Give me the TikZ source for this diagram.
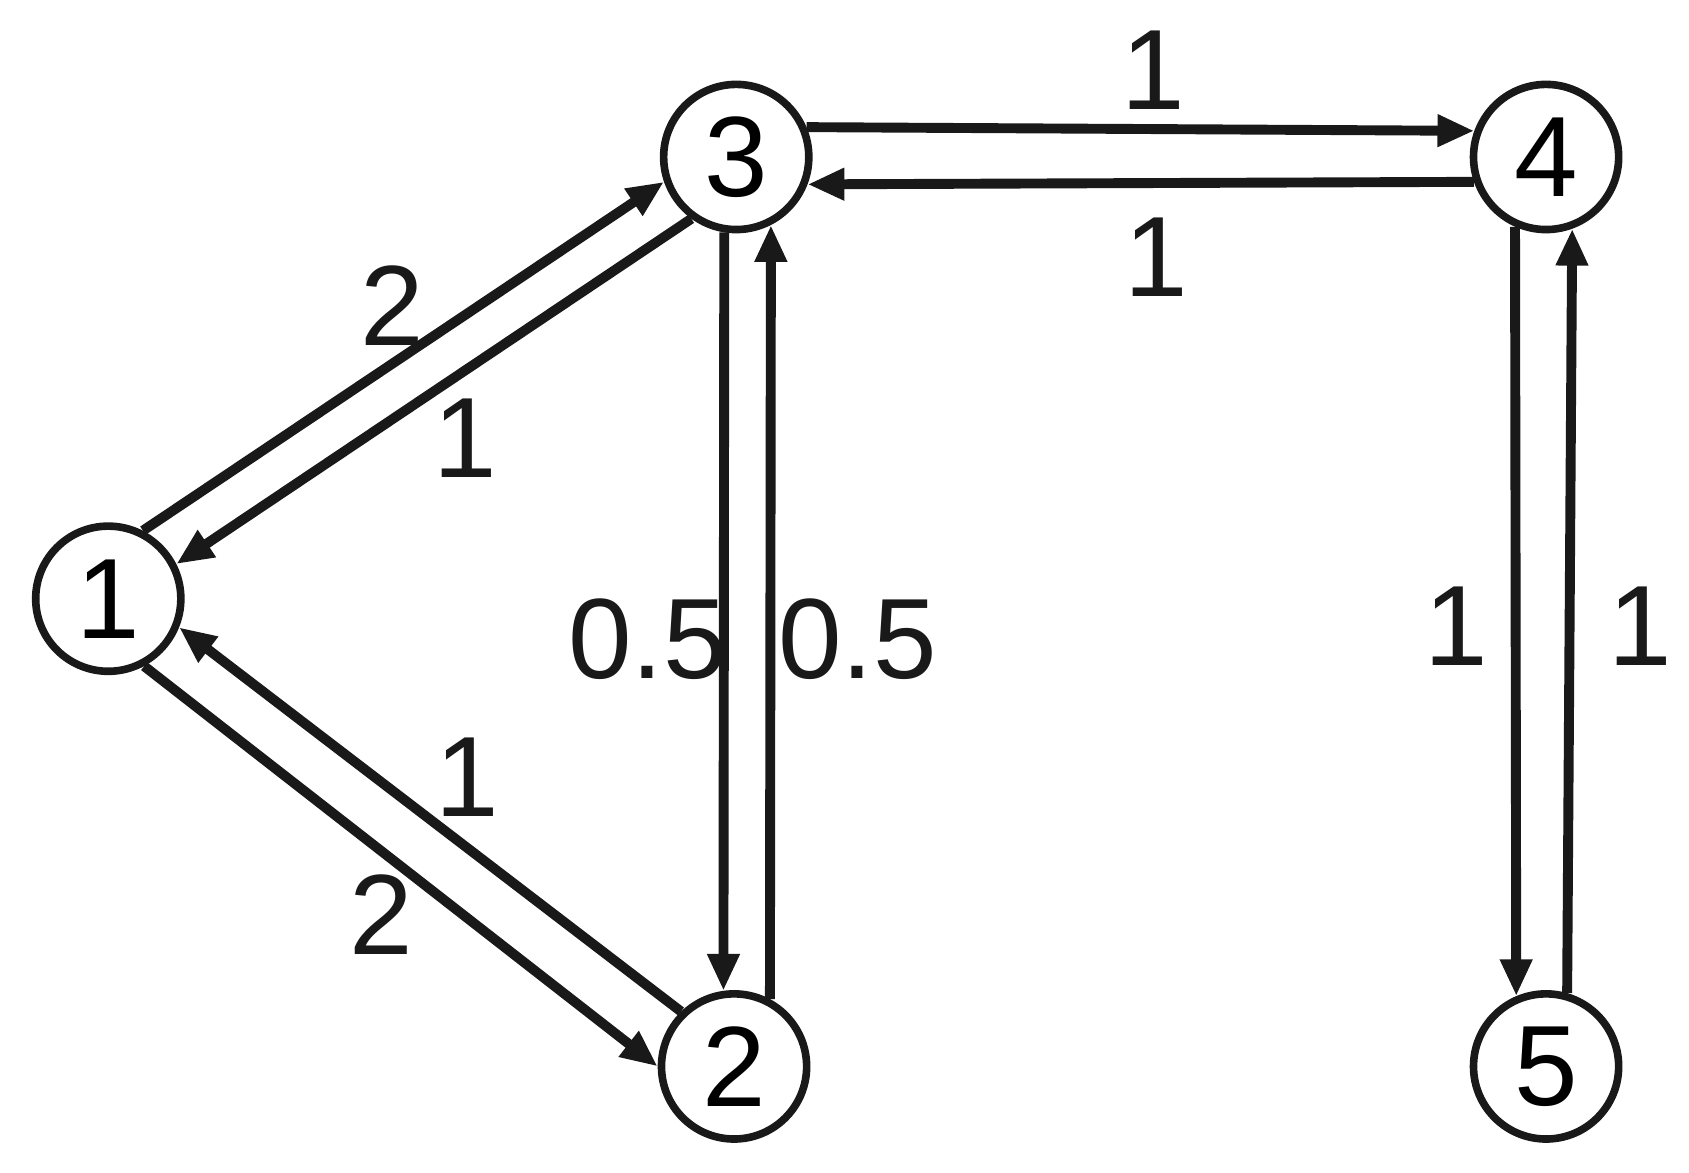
\documentclass[tikz,border=0pt]{standalone}
\usepackage{fontspec}
\setmainfont{Liberation Sans}
\usetikzlibrary{arrows.meta}
\begin{document}
\begin{tikzpicture}[x=0.01cm,y=-0.01cm,
  vert/.style={circle,draw=black!90,line width=2pt,minimum size=1.34cm,inner sep=0pt,font=\fontsize{30}{30}\selectfont},
  edge/.style={line width=2.6pt,draw=black!90,-{Triangle[length=0.34cm,width=0.28cm]}},
  wlab/.style={font=\fontsize{30}{30}\selectfont,text=black!90}]
\useasboundingbox (0,0) rectangle (1560,1083);
\node[vert] (n1) at (100,553) {1};
\node[vert] (n3) at (680,145) {3};
\node[vert] (n4) at (1428,145) {4};
\node[vert] (n2) at (678,985) {2};
\node[vert] (n5) at (1428,985) {5};
\draw[edge] (n1.63) -- (n3.199);
\draw[edge] (n3.234) -- (n1.27);
\draw[edge] (n3.23) -- (n4.160);
\draw[edge] (n4.199) -- (n3.-21);
\draw[edge] (n3.261) -- (n2.98);
\draw[edge] (n2.62) -- (n3.297);
\draw[edge] (n4.246) -- (n5.113);
\draw[edge] (n5.74) -- (n4.290);
\draw[edge] (n1.298) -- (n2.180);
\draw[edge] (n2.134) -- (n1.338);
\node[wlab] (l1) at (362,282) {2};
\node[wlab] (l2) at (430,405) {1};
\node[wlab] (l3) at (1065,65) {1};
\node[wlab] (l4) at (1068,238) {1};
\node[wlab] (l5) at (598,590) {0.5};
\node[wlab] (l6) at (792,590) {0.5};
\node[wlab] (l7) at (1345,578) {1};
\node[wlab] (l8) at (1515,578) {1};
\node[wlab] (l9) at (432,718) {1};
\node[wlab] (l10) at (352,845) {2};
\end{tikzpicture}
\end{document}
